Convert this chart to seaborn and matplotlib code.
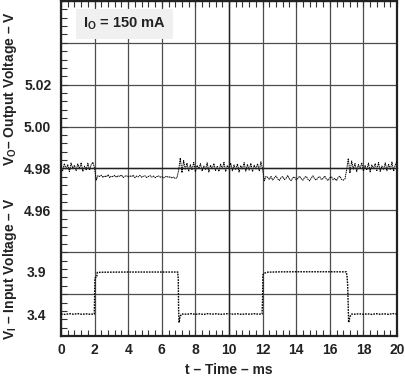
import numpy as np
import pandas as pd
import matplotlib
matplotlib.use("Agg")
import matplotlib.pyplot as plt
import seaborn as sns
from matplotlib.ticker import MultipleLocator, FixedLocator

# ---------------- data ----------------
out_seg_a = [4.9812, 4.9789, 4.9824, 4.9796, 4.9818, 4.9785, 4.9826, 4.9801, 4.9815, 4.9790,
             4.9822, 4.9798, 4.9828, 4.9787, 4.9811, 4.9794, 4.9825, 4.9792, 4.9819, 4.9830]
out_seg_b = [4.9800, 4.9745, 4.9766]
out_seg_c = [4.9762, 4.9768, 4.9757, 4.9765, 4.9760, 4.9770, 4.9756, 4.9764, 4.9761, 4.9767,
             4.9758, 4.9766, 4.9762, 4.9769, 4.9757, 4.9763, 4.9766, 4.9759, 4.9765, 4.9761,
             4.9768, 4.9756, 4.9764, 4.9760, 4.9767, 4.9758, 4.9763, 4.9765, 4.9757, 4.9762,
             4.9766, 4.9759, 4.9764, 4.9756, 4.9761, 4.9765, 4.9758, 4.9762, 4.9755, 4.9760,
             4.9763, 4.9757, 4.9761, 4.9754, 4.9759, 4.9752, 4.9756]
out_seg_d = [4.9790, 4.9850, 4.9780, 4.9838, 4.9795]
out_seg_e = [4.9826, 4.9786, 4.9818, 4.9793, 4.9829, 4.9784, 4.9815, 4.9799, 4.9823, 4.9788,
             4.9812, 4.9795, 4.9827, 4.9783, 4.9816, 4.9797, 4.9824, 4.9790, 4.9810, 4.9786,
             4.9821, 4.9796, 4.9830, 4.9785, 4.9814, 4.9800, 4.9826, 4.9789, 4.9817, 4.9794,
             4.9822, 4.9783, 4.9813, 4.9798, 4.9828, 4.9787, 4.9819, 4.9792, 4.9825, 4.9785,
             4.9816, 4.9796, 4.9823, 4.9789, 4.9832]
out_seg_f = [4.9798, 4.9742, 4.9762]
out_seg_g = [4.9758, 4.9748, 4.9762, 4.9745, 4.9755, 4.9764, 4.9750, 4.9743, 4.9757, 4.9761,
             4.9747, 4.9754, 4.9766, 4.9749, 4.9742, 4.9756, 4.9760, 4.9746, 4.9753, 4.9763,
             4.9751, 4.9744, 4.9758, 4.9762, 4.9748, 4.9741, 4.9755, 4.9765, 4.9750, 4.9745,
             4.9757, 4.9761, 4.9747, 4.9752, 4.9764, 4.9749, 4.9743, 4.9756, 4.9760, 4.9746,
             4.9753, 4.9742, 4.9758, 4.9763, 4.9748, 4.9744, 4.9750]
out_seg_h = [4.9792, 4.9848, 4.9778, 4.9836, 4.9797]
out_seg_i = [4.9824, 4.9785, 4.9819, 4.9797, 4.9828, 4.9788, 4.9814, 4.9793, 4.9826, 4.9784,
             4.9817, 4.9799, 4.9823, 4.9790, 4.9829, 4.9786, 4.9812, 4.9795, 4.9827, 4.9789,
             4.9820, 4.9794, 4.9831, 4.9787, 4.9818, 4.9833]
v_out = (out_seg_a + out_seg_b + out_seg_c + out_seg_d + out_seg_e +
         out_seg_f + out_seg_g + out_seg_h + out_seg_i)
t_out = [round(0.1 * i, 1) for i in range(len(v_out))]  # 0.1 ms sampling

t_in = [0.0, 0.25, 0.5, 0.75, 1.0, 1.25, 1.5, 1.75, 1.98,
        2.00, 2.02, 2.12, 2.16, 2.5, 4.0, 6.0, 6.95,
        6.98, 7.00, 7.03, 7.08, 7.18,
        7.5, 7.75, 8.0, 8.25, 8.5, 8.75, 9.0, 9.25, 9.5, 9.75, 10.0, 10.25, 10.5, 10.75,
        11.0, 11.25, 11.5, 11.75, 11.97,
        12.00, 12.02, 12.10, 12.25, 13.0, 14.0, 16.0, 16.98,
        17.02, 17.06, 17.09, 17.12, 17.20, 17.30,
        17.5, 17.75, 18.0, 18.25, 18.5, 18.75, 19.0, 19.25, 19.5, 19.75, 20.0]
v_in = [3.400, 3.396, 3.404, 3.398, 3.405, 3.397, 3.402, 3.398, 3.400,
        3.600, 3.820, 3.830, 3.885, 3.888, 3.890, 3.890, 3.890,
        3.800, 3.450, 3.300, 3.370, 3.400,
        3.398, 3.404, 3.397, 3.402, 3.396, 3.405, 3.399, 3.403, 3.397, 3.401, 3.405, 3.398, 3.403, 3.396,
        3.402, 3.398, 3.404, 3.399, 3.400,
        3.600, 3.860, 3.875, 3.888, 3.892, 3.893, 3.893, 3.892,
        3.850, 3.750, 3.550, 3.300, 3.370, 3.400,
        3.398, 3.403, 3.397, 3.402, 3.396, 3.404, 3.398, 3.402, 3.397, 3.405, 3.400]

x_ticks = [0, 2, 4, 6, 8, 10, 12, 14, 16, 18, 20]
out_tick_vals = [5.02, 5.00, 4.98, 4.96]
out_tick_labels = ["5.02", "5.00", "4.98", "4.96"]
in_tick_vals = [3.9, 3.4]
in_tick_labels = ["3.9", "3.4"]
annotation = r"I$_\mathregular{O}$ = 150 mA"

df_out = pd.DataFrame({"t": t_out, "v": v_out})
df_in = pd.DataFrame({"t": t_in, "v": v_in})

# ---------------- style ----------------
sns.set_style("white")
plt.rcParams["font.family"] = ["Liberation Sans", "DejaVu Sans"]
plt.rcParams["font.weight"] = "bold"
plt.rcParams["mathtext.fontset"] = "custom"
plt.rcParams["mathtext.rm"] = "Liberation Sans:bold"
plt.rcParams["mathtext.it"] = "Liberation Sans:bold"
plt.rcParams["mathtext.bf"] = "Liberation Sans:bold"
plt.rcParams["mathtext.default"] = "regular"

TXT = "#222222"
GRID = "#4d4d4d"
FS = 10

W, H = 406, 377
fig = plt.figure(figsize=(W / 100, H / 100), dpi=100)
rect = [61 / W, (H - 336) / H, 336 / W, 335 / H]
ax = fig.add_axes(rect)

# output-voltage scale (upper traces)
ax.set_xlim(0, 20)
ax.set_ylim(4.90, 5.06)
ax.xaxis.set_major_locator(FixedLocator(x_ticks))
ax.xaxis.set_minor_locator(MultipleLocator(0.4))
ax.yaxis.set_major_locator(MultipleLocator(0.02))
ax.yaxis.set_minor_locator(MultipleLocator(0.004))
ax.grid(True, which="major", color=GRID, lw=0.9)
ax.set_axisbelow(True)

yt = list(np.round(np.arange(4.90, 5.0601, 0.02), 2))
ylabels = []
for v in yt:
    lab = ""
    for tv, tl in zip(out_tick_vals, out_tick_labels):
        if abs(tv - v) < 1e-6:
            lab = tl
    ylabels.append(lab)
ax.set_yticks(yt)
ax.set_yticklabels(ylabels)
ax.set_xticks(x_ticks)
ax.set_xticklabels([str(x) for x in x_ticks])
ax.tick_params(which="both", direction="in", length=4, width=0.8, color="#333333",
               top=True, right=True, left=True, bottom=True,
               labelsize=FS, labelcolor=TXT)
ax.tick_params(axis="x", which="major", pad=5)
ax.tick_params(axis="y", which="major", pad=7)
for s in ax.spines.values():
    s.set_color("#222222")
    s.set_linewidth(1.6)

sns.lineplot(data=df_out, x="t", y="v", ax=ax, color="black", lw=0.7,
             linestyle=(0, (1.5, 0.7)), estimator=None, sort=False, zorder=4)

# input-voltage scale (lower traces)
ax2 = ax.twinx()
ax2.set_ylim(3.144, 7.051)
ax2.set_yticks(in_tick_vals)
ax2.set_yticklabels(in_tick_labels)
ax2.yaxis.tick_left()
ax2.tick_params(axis="y", length=0, pad=11, labelsize=FS, labelcolor=TXT)
for s in ax2.spines.values():
    s.set_visible(False)
sns.lineplot(data=df_in, x="t", y="v", ax=ax2, color="black", lw=1.0,
             linestyle=(0, (1.2, 0.8)), estimator=None, sort=False, zorder=4)
ax2.set_ylabel("")
ax2.set_xlabel("")

# centre cross with ticks
axc = fig.add_axes(rect, facecolor="none")
axc.set_xlim(0, 20)
axc.set_ylim(4.90, 5.06)
axc.spines["left"].set_position(("data", 10))
axc.spines["bottom"].set_position(("data", 4.98))
axc.spines["top"].set_visible(False)
axc.spines["right"].set_visible(False)
for k in ("left", "bottom"):
    axc.spines[k].set_color("#222222")
    axc.spines[k].set_linewidth(1.0)
axc.xaxis.set_major_locator(MultipleLocator(0.4))
axc.yaxis.set_major_locator(MultipleLocator(0.004))
axc.tick_params(which="both", direction="inout", length=8, width=0.8, color="#333333",
                labelleft=False, labelbottom=False)
axc.patch.set_alpha(0)

# labels
ax.set_xlabel("t – Time – ms", fontsize=FS, color=TXT, fontweight="bold")
ax.xaxis.set_label_coords(0.5, -0.081)
ax.set_ylabel(r"V$_\mathregular{O}$– Output Voltage – V", fontsize=FS, color=TXT,
              fontweight="bold")
ax.yaxis.label.set_verticalalignment("center")
ax.yaxis.set_label_coords(-0.152, 0.738)
fig.text(10 / W, 1 - 269 / H, r"V$_\mathregular{I}$ – Input Voltage – V", rotation=90,
         fontsize=FS, color=TXT, fontweight="bold", ha="center", va="center")

ax.text(0.19, 0.931, annotation, transform=ax.transAxes, fontsize=10.5, color=TXT,
        fontweight="bold", ha="center", va="center", zorder=6,
        bbox=dict(facecolor="#f0f0f0", edgecolor="none", pad=5))

fig.savefig("out.png", dpi=100)
